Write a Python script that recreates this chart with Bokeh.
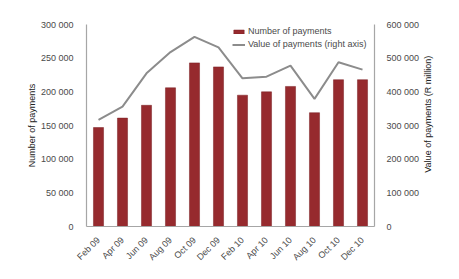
from bokeh.plotting import figure
from bokeh.models import Range1d, LinearAxis, FixedTicker, Legend, LegendItem, FactorRange
from bokeh.layouts import row
from bokeh.core.properties import value
from bokeh.embed import file_html
from bokeh.resources import INLINE
import math

categories = ["Feb 09", "Apr 09", "Jun 09", "Aug 09", "Oct 09", "Dec 09",
              "Feb 10", "Apr 10", "Jun 10", "Aug 10", "Oct 10", "Dec 10"]
number_of_payments = [147000, 161000, 180000, 206000, 243000, 237000,
                      195000, 200000, 208000, 169000, 218000, 218000]
value_of_payments = [317000, 356000, 455000, 518000, 563000, 532000,
                     440000, 445000, 478000, 379000, 488000, 466000]
left_ticks = [0, 50000, 100000, 150000, 200000, 250000, 300000]
left_tick_labels = ["0", "50 000", "100 000", "150 000", "200 000", "250 000", "300 000"]
right_ticks = [0, 100000, 200000, 300000, 400000, 500000, 600000]
right_tick_labels = ["0", "100 000", "200 000", "300 000", "400 000", "500 000", "600 000"]
right_axis_title = "Value of payments (R million)"

FONT = "Liberation Sans"
TXT = "#4a4a4a"
AX = "#a6a6a6"

p = figure(width=422, height=279, x_range=FactorRange(*categories, range_padding=0),
           y_range=Range1d(0, 300000), output_backend="svg", toolbar_location=None,
           min_border_left=86, min_border_right=43, min_border_top=24, min_border_bottom=53)
p.extra_y_ranges = {"right": Range1d(0, 600000)}
p.outline_line_color = None
p.xgrid.grid_line_color = None
p.ygrid.grid_line_color = None

bars = p.vbar(x=categories, top=number_of_payments, width=0.42,
              fill_color="#962a2e", line_color="#7a1f22", line_width=0.5)
line = p.line(x=categories, y=value_of_payments, y_range_name="right",
              line_color="#8c8c8c", line_width=2)

def style(ax):
    ax.axis_line_color = AX
    ax.axis_line_width = 1.2
    ax.major_tick_line_color = None
    ax.minor_tick_line_color = None
    ax.major_label_text_font = FONT
    ax.major_label_text_font_size = "9px"
    ax.major_label_text_color = TXT
    ax.axis_label_text_font = FONT
    ax.axis_label_text_font_size = "9px"
    ax.axis_label_text_font_style = "normal"
    ax.axis_label_text_color = "#222222"

yl = p.yaxis[0]
style(yl)
yl.ticker = FixedTicker(ticks=left_ticks)
yl.major_label_overrides = dict(zip(left_ticks, left_tick_labels))
yl.axis_label = "Number of payments"
yl.major_label_standoff = 7
yl.axis_label_standoff = 1

yr = LinearAxis(y_range_name="right", ticker=FixedTicker(ticks=right_ticks))
style(yr)
yr.major_label_overrides = dict(zip(right_ticks, right_tick_labels))
yr.major_label_standoff = 6
p.add_layout(yr, "right")

xa = p.xaxis[0]
style(xa)
xa.major_label_orientation = math.pi / 4
xa.major_label_standoff = 6

legend = Legend(items=[LegendItem(label="Number of payments", renderers=[bars]),
                       LegendItem(label="Value of payments (right axis)", renderers=[line])],
                location=(146, 177), glyph_width=13, glyph_height=5, label_height=10,
                spacing=3, padding=0, margin=0, label_standoff=3,
                border_line_color=None, background_fill_alpha=0,
                label_text_font=FONT, label_text_font_size="9px", label_text_color=TXT)
p.add_layout(legend)

# narrow side panel carrying the right axis title (reads bottom-to-top)
side = figure(width=37, height=279, x_range=Range1d(0, 37), y_range=Range1d(0, 279),
              output_backend="svg", toolbar_location=None,
              min_border_left=0, min_border_right=0, min_border_top=0, min_border_bottom=0)
side.axis.visible = False
side.grid.visible = False
side.outline_line_color = None
side.text(x=[5], y=[155], text=[right_axis_title], angle=math.pi / 2,
          text_align="center", text_baseline="middle",
          text_font=value(FONT), text_font_size="9px", text_color="#222222")

layout = row(p, side, spacing=0)
open("out.html", "w").write(file_html(layout, INLINE))
